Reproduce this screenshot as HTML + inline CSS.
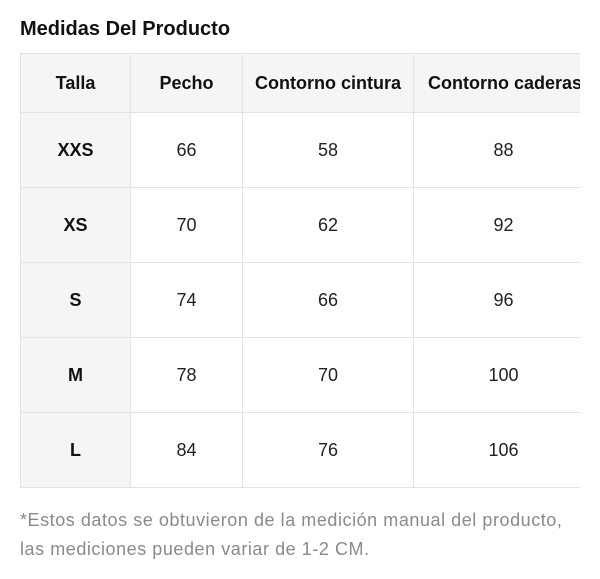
<!DOCTYPE html>
<html><head><style>
body{margin:0;width:600px;height:579px;background:#fff;font-family:"Liberation Sans",sans-serif;position:relative;overflow:hidden}
.t{position:absolute;left:20px;top:18px;font-size:20px;font-weight:bold;color:#111}
.w{position:absolute;left:20px;top:53px;width:560px;height:440px;overflow:hidden}
table{border-collapse:collapse;table-layout:fixed;width:573px}
td{border:1px solid #e3e3e3;text-align:center;font-size:18px;color:#222;height:74px;padding:0}
tr:first-child td{background:#f5f5f5;font-weight:bold;height:58px;color:#111}
td:first-child{background:#f5f5f5;font-weight:bold;color:#111}
.n{position:absolute;left:20px;top:506px;font-size:18px;color:#8a8a8a;line-height:29px;letter-spacing:0.55px;white-space:nowrap}
</style></head><body>
<div class="t">Medidas Del Producto</div>
<div class="w">
<table>
<col style="width:110px"><col style="width:112px"><col style="width:171px"><col style="width:180px">
<tr><td>Talla</td><td>Pecho</td><td>Contorno cintura</td><td style="text-align:left;padding-left:14px;white-space:nowrap">Contorno caderas</td></tr>
<tr><td>XXS</td><td>66</td><td>58</td><td>88</td></tr>
<tr><td>XS</td><td>70</td><td>62</td><td>92</td></tr>
<tr><td>S</td><td>74</td><td>66</td><td>96</td></tr>
<tr><td>M</td><td>78</td><td>70</td><td>100</td></tr>
<tr><td>L</td><td>84</td><td>76</td><td>106</td></tr>
</table>
</div>
<div class="n">*Estos datos se obtuvieron de la medición manual del producto,<br>las mediciones pueden variar de 1-2 CM.</div>
</body></html>
